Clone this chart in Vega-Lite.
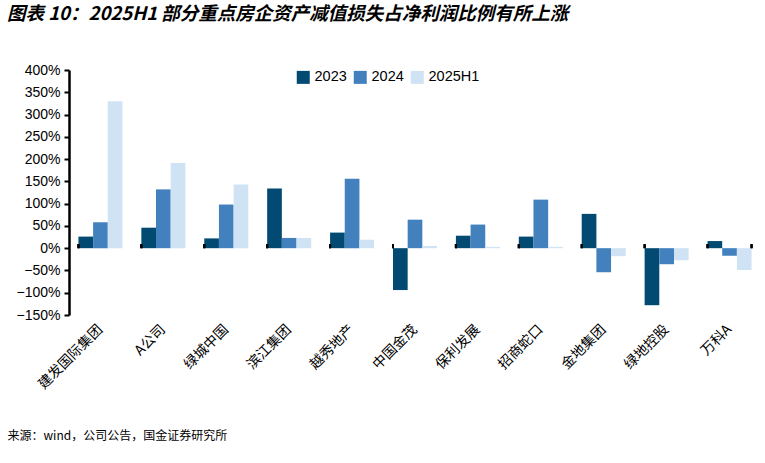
{
  "$schema": "https://vega.github.io/schema/vega-lite/v6.json",
  "width": 692,
  "height": 245,
  "autosize": {"type": "none"},
  "padding": {"left": 69, "top": 70, "right": 4, "bottom": 148},
  "background": "white",
  "config": {"view": {"stroke": null}, "axisY": {"labelOverlap": false, "tickCount": 12}},
  "title": {
    "text": "图表 10：2025H1 部分重点房企资产减值损失占净利润比例有所上涨",
    "anchor": "start",
    "frame": "group",
    "dx": -62,
    "offset": 40,
    "font": "Noto Sans CJK SC",
    "fontSize": 18.5,
    "fontWeight": "bold",
    "fontStyle": "italic",
    "color": "#000000"
  },
  "data": {
    "values": [
      {"company": "建发国际集团", "year": "2023", "value": 0.26},
      {"company": "建发国际集团", "year": "2024", "value": 0.58},
      {"company": "建发国际集团", "year": "2025H1", "value": 3.30},
      {"company": "A公司", "year": "2023", "value": 0.46},
      {"company": "A公司", "year": "2024", "value": 1.32},
      {"company": "A公司", "year": "2025H1", "value": 1.91},
      {"company": "绿城中国", "year": "2023", "value": 0.22},
      {"company": "绿城中国", "year": "2024", "value": 0.98},
      {"company": "绿城中国", "year": "2025H1", "value": 1.43},
      {"company": "滨江集团", "year": "2023", "value": 1.34},
      {"company": "滨江集团", "year": "2024", "value": 0.23},
      {"company": "滨江集团", "year": "2025H1", "value": 0.23},
      {"company": "越秀地产", "year": "2023", "value": 0.35},
      {"company": "越秀地产", "year": "2024", "value": 1.56},
      {"company": "越秀地产", "year": "2025H1", "value": 0.19},
      {"company": "中国金茂", "year": "2023", "value": -0.94},
      {"company": "中国金茂", "year": "2024", "value": 0.64},
      {"company": "中国金茂", "year": "2025H1", "value": 0.05},
      {"company": "保利发展", "year": "2023", "value": 0.28},
      {"company": "保利发展", "year": "2024", "value": 0.53},
      {"company": "保利发展", "year": "2025H1", "value": 0.03},
      {"company": "招商蛇口", "year": "2023", "value": 0.26},
      {"company": "招商蛇口", "year": "2024", "value": 1.09},
      {"company": "招商蛇口", "year": "2025H1", "value": 0.03},
      {"company": "金地集团", "year": "2023", "value": 0.77},
      {"company": "金地集团", "year": "2024", "value": -0.54},
      {"company": "金地集团", "year": "2025H1", "value": -0.18},
      {"company": "绿地控股", "year": "2023", "value": -1.28},
      {"company": "绿地控股", "year": "2024", "value": -0.36},
      {"company": "绿地控股", "year": "2025H1", "value": -0.27},
      {"company": "万科A", "year": "2023", "value": 0.16},
      {"company": "万科A", "year": "2024", "value": -0.17},
      {"company": "万科A", "year": "2025H1", "value": -0.49}
    ]
  },
  "encoding": {
    "x": {
      "field": "company",
      "type": "nominal",
      "sort": null,
      "scale": {"paddingInner": 0.3, "paddingOuter": 0.15},
      "axis": {
        "title": "来源：wind，公司公告，国金证券研究所",
        "titleFont": "Noto Sans CJK SC",
        "titleFontSize": 12,
        "titleFontWeight": "normal",
        "titleColor": "#000000",
        "titleAnchor": "start",
        "titleAlign": "left",
        "titleBaseline": "middle",
        "titleX": -62,
        "titleY": 120,
        "domain": false,
        "ticks": false,
        "labelAngle": -45,
        "labelAlign": "right",
        "labelBaseline": "middle",
        "labelPadding": 12,
        "labelOverlap": false,
        "labelFont": "Noto Sans CJK SC",
        "labelFontSize": 14,
        "labelColor": "#000000"
      }
    },
    "y": {
      "field": "value",
      "type": "quantitative",
      "scale": {"domain": [-1.5, 4.0], "nice": false},
      "axis": {
        "title": null,
        "format": ".0%",
        "values": [-1.5, -1.0, -0.5, 0, 0.5, 1.0, 1.5, 2.0, 2.5, 3.0, 3.5, 4.0],
        "labelOverlap": false,
        "grid": false,
        "domainColor": "#000000",
        "domainWidth": 2.5,
        "tickColor": "#000000",
        "tickWidth": 2,
        "tickSize": 5,
        "labelFont": "Liberation Sans",
        "labelFontSize": 14,
        "labelColor": "#000000",
        "labelPadding": 4
      }
    }
  },
  "layer": [
    {
      "mark": {"type": "bar", "stroke": null},
      "encoding": {
        "xOffset": {"field": "year", "type": "nominal", "scale": {"paddingInner": 0}},
        "color": {
          "field": "year",
          "type": "nominal",
          "scale": {"domain": ["2023", "2024", "2025H1"], "range": ["#034A72", "#4280BE", "#D0E3F4"]},
          "legend": {
            "title": null,
            "orient": "none",
            "direction": "horizontal",
            "legendX": 227,
            "legendY": 0,
            "symbolType": "square",
            "symbolSize": 169,
            "symbolStrokeWidth": 0,
            "labelFont": "Liberation Sans",
            "labelFontSize": 14.5,
            "labelColor": "#000000",
            "labelOffset": 4,
            "columnPadding": 6
          }
        }
      }
    },
    {
      "mark": {"type": "rule", "color": "#000000", "strokeWidth": 2.5},
      "encoding": {"y": {"datum": 0}}
    },
    {
      "mark": {"type": "rule", "color": "#000000", "strokeWidth": 2},
      "encoding": {
        "x": {"field": "company", "type": "nominal", "sort": null, "bandPosition": 0},
        "y": {"datum": 0},
        "y2": {"datum": 0.09}
      }
    },
    {
      "transform": [{"filter": "datum.company === '万科A'"}],
      "mark": {"type": "rule", "color": "#000000", "strokeWidth": 2},
      "encoding": {
        "x": {"field": "company", "type": "nominal", "sort": null, "bandPosition": 1},
        "y": {"datum": 0},
        "y2": {"datum": 0.09}
      }
    }
  ]
}
